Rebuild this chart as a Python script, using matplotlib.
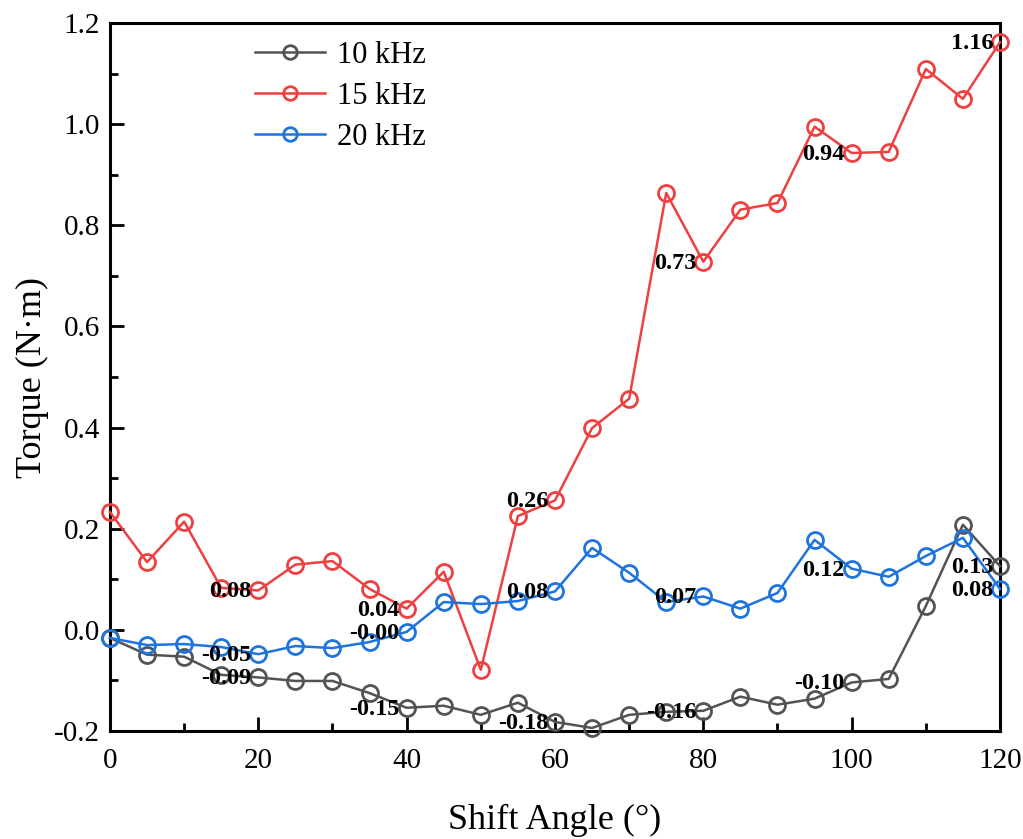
import numpy as np
import matplotlib.pyplot as plt
from matplotlib.ticker import MultipleLocator

plt.rcParams['font.family'] = ['Liberation Serif', 'DejaVu Serif']
plt.rcParams['mathtext.fontset'] = 'stix'

# Shift angle (deg)
angle = np.arange(0, 121, 5)

# Torque (N*m) for each frequency
torque_10k = [-0.016, -0.049, -0.053, -0.089, -0.094, -0.101, -0.101, -0.125, -0.154,
              -0.150, -0.168, -0.144, -0.182, -0.194, -0.168, -0.162, -0.160, -0.132,
              -0.148, -0.136, -0.104, -0.097, 0.047, 0.208, 0.126]
torque_15k = [0.233, 0.134, 0.214, 0.083, 0.078, 0.129, 0.136, 0.081, 0.042,
              0.115, -0.079, 0.225, 0.256, 0.399, 0.457, 0.864, 0.728, 0.831,
              0.844, 0.995, 0.943, 0.945, 1.109, 1.050, 1.162]
torque_20k = [-0.016, -0.030, -0.028, -0.034, -0.048, -0.032, -0.036, -0.024, -0.004,
              0.055, 0.051, 0.057, 0.076, 0.162, 0.113, 0.055, 0.066, 0.042,
              0.073, 0.178, 0.121, 0.105, 0.146, 0.182, 0.081]

series = [
    ('10 kHz', torque_10k, '#535353'),
    ('15 kHz', torque_15k, '#EF4040'),
    ('20 kHz', torque_20k, '#1E74DE'),
]
label_angles = [20, 40, 60, 80, 100, 120]

fig = plt.figure(figsize=(10.23, 8.39), dpi=100)
ax = fig.add_axes([0.1075, 0.1287, 0.87, 0.8439])

for name, vals, color in series:
    ax.plot(angle, vals, color=color, lw=1.8, marker='o', ms=11.5,
            mfc='none', mew=2.0, label=name, clip_on=False, zorder=3)
    for a, v in zip(angle, vals):
        if a in label_angles:
            ax.annotate(f'{v:.2f}', (a, v), xytext=(-5, -1), textcoords='offset points',
                        ha='right', va='center', fontsize=17.5, fontweight='bold',
                        color='black', zorder=4)

ax.set_xlim(0, 120)
ax.set_ylim(-0.2, 1.2)
ax.xaxis.set_major_locator(MultipleLocator(20))
ax.xaxis.set_minor_locator(MultipleLocator(10))
ax.yaxis.set_major_locator(MultipleLocator(0.2))
ax.yaxis.set_minor_locator(MultipleLocator(0.1))
ax.yaxis.set_major_formatter(plt.FuncFormatter(lambda v, p: f'{v:.1f}'))

ax.tick_params(which='both', direction='in', top=False, right=False, width=2,
               labelsize=21)
ax.tick_params(which='major', length=10)
ax.tick_params(which='minor', length=6)
ax.tick_params(axis='x', which='major', pad=12)
ax.tick_params(axis='y', which='major', pad=7)
for s in ax.spines.values():
    s.set_linewidth(2.2)

ax.set_xlabel('Shift Angle (°)', fontsize=26, labelpad=22)
ax.set_ylabel('Torque (N·m)', fontsize=26, labelpad=4)

ax.legend(loc='upper left', bbox_to_anchor=(0.132, 1.014), frameon=False,
          fontsize=22, handlelength=2.3, handletextpad=0.4, labelspacing=0.4,
          markerscale=0.85)

fig.savefig('out.png', dpi=100)
